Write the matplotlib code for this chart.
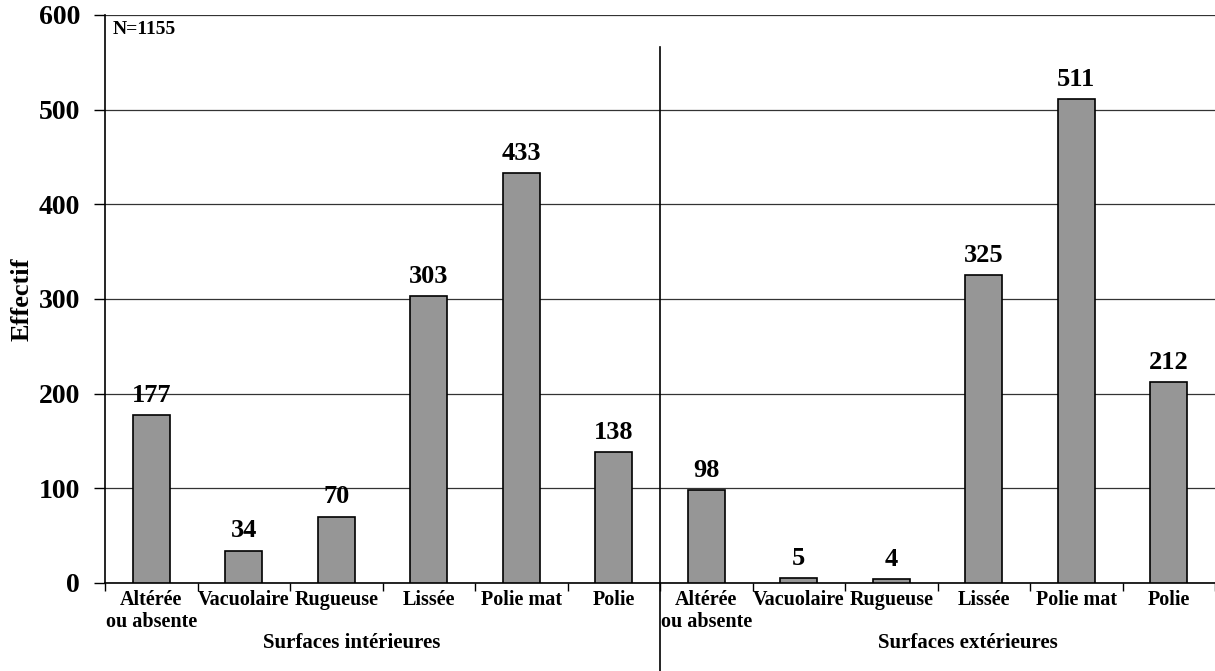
import matplotlib
matplotlib.use("Agg")
import matplotlib.pyplot as plt
import matplotlib.transforms as mtransforms
from matplotlib.lines import Line2D
import numpy as np

plt.rcParams["font.family"] = ["Liberation Serif", "DejaVu Serif"]
plt.rcParams["font.weight"] = "bold"

# data
categories = ["Altérée\nou absente", "Vacuolaire", "Rugueuse", "Lissée", "Polie mat", "Polie"]
interieures = [177, 34, 70, 303, 433, 138]
exterieures = [98, 5, 4, 325, 511, 212]
group_labels = ["Surfaces intérieures", "Surfaces extérieures"]
y_ticks = [0, 100, 200, 300, 400, 500, 600]

labels = categories + categories
values = interieures + exterieures
x = np.arange(len(values))

fig = plt.figure(figsize=(12.15, 6.71), dpi=100)
ax = fig.add_axes([105 / 1215, 1 - 583 / 671, 1 - 105 / 1215, (583 - 15) / 671])

ax.bar(x, values, width=0.4, color="#969696", edgecolor="black", linewidth=1.2, zorder=3)
for xi, v in zip(x, values):
    ax.annotate(str(v), (xi, v), xytext=(0, 6), textcoords="offset points",
                ha="center", va="bottom", fontsize=19, fontweight="bold")

ax.set_xlim(-0.5, len(values) - 0.5)
ax.set_ylim(0, 600)
ax.set_yticks(y_ticks)
ax.set_yticklabels([str(t) for t in y_ticks], fontsize=20, fontweight="bold")
ax.tick_params(axis="y", length=8, width=1, pad=10)
ax.yaxis.grid(True, color="#333333", linewidth=0.9, zorder=0)

# category boundaries as major ticks, labels as minor ticks
ax.set_xticks(np.arange(-0.5, len(values), 1.0))
ax.set_xticklabels([])
ax.tick_params(axis="x", which="major", length=6, width=1, direction="out")
ax.set_xticks(x, minor=True)
ax.set_xticklabels(labels, minor=True, fontsize=14.5, fontweight="bold", linespacing=1.15)
ax.tick_params(axis="x", which="minor", length=0, pad=5)

for s in ["top", "right"]:
    ax.spines[s].set_visible(False)
ax.spines["left"].set_linewidth(1.2)
ax.spines["bottom"].set_linewidth(1.2)

ax.set_ylabel("Effectif", fontsize=19, fontweight="bold", va="center")
ax.yaxis.set_label_coords((22 - 105) / 1110, 0.5)

# separator between the two groups
trans = mtransforms.blended_transform_factory(ax.transData, fig.transFigure)
fig.add_artist(Line2D([5.5, 5.5], [1 - 47 / 671, 0], transform=trans, color="black", linewidth=1.2))

# group labels
fig.text(352 / 1215, 1 - 643 / 671, group_labels[0], ha="center", va="center", fontsize=15, fontweight="bold")
fig.text(968 / 1215, 1 - 643 / 671, group_labels[1], ha="center", va="center", fontsize=15, fontweight="bold")

ax.text(0.007, 0.99, "N=1155", transform=ax.transAxes, ha="left", va="top", fontsize=14, fontweight="bold")

fig.savefig("out.png", dpi=100)
